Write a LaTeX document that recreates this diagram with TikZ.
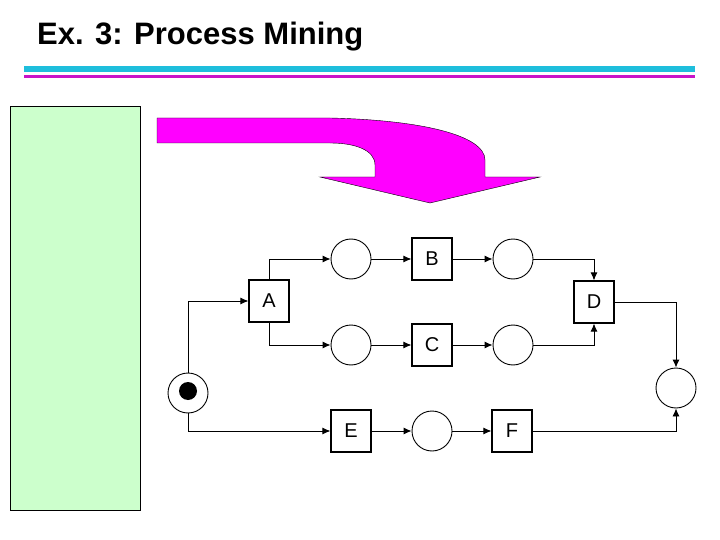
\documentclass[tikz,border=0pt]{standalone}
\usepackage{fontspec}
\setmainfont{Liberation Sans}
\usetikzlibrary{arrows.meta}
\definecolor{mag}{RGB}{255,0,255}
\definecolor{cy}{RGB}{30,190,220}
\definecolor{pu}{RGB}{200,20,200}
\definecolor{lg}{RGB}{204,255,204}
\begin{document}
\begin{tikzpicture}[x=1pt,y=-1pt,
  trans/.style={draw,line width=1.1pt,minimum width=40pt,minimum height=42pt,inner sep=0pt,font=\fontsize{20}{20}\selectfont},
  place/.style={draw,circle,line width=0.9pt,minimum size=40pt,inner sep=0pt},
  arc/.style={-{Latex[length=8pt,width=7pt]},line width=0.9pt}]
\useasboundingbox (0,0) rectangle (720,540);
\node[anchor=base west,inner sep=0pt,font=\fontsize{31}{31}\selectfont\bfseries] (title) at (37,45) {Ex. 3: Process Mining};
\fill[cy] (24,66) rectangle (695,72);
\fill[pu] (24,75) rectangle (695,78);
\draw[fill=lg] (10,106) rectangle (140,510);
\draw[fill=mag] (157,118) -- (330,118) .. controls (420,120) and (485,135) .. (485,160) -- (485,177) -- (540,177) -- (430,203) -- (320,177) -- (375,177) -- (375,165) .. controls (375,150) and (355,143) .. (330,143) -- (157,143) -- cycle;
\node[place] (p0) at (188,393) {};
\fill (188,391) circle (9);
\node[trans] (A) at (269,301) {A};
\node[place] (p1) at (351,259) {};
\node[place] (p2) at (351,345) {};
\node[trans] (B) at (432,259) {B};
\node[trans] (C) at (432,345) {C};
\node[place] (p3) at (513,259) {};
\node[place] (p4) at (513,345) {};
\node[trans] (D) at (594,302) {D};
\node[trans] (E) at (351,431) {E};
\node[place] (p5) at (432,431) {};
\node[trans] (F) at (512,431) {F};
\node[place] (p6) at (676,388) {};
\draw[arc] (p0.north) |- (A.west);
\draw[arc] (p0.south) |- (E.west);
\draw[arc] (A.north) |- (p1.west);
\draw[arc] (A.south) |- (p2.west);
\draw[arc] (p1) -- (B);
\draw[arc] (p2) -- (C);
\draw[arc] (B) -- (p3);
\draw[arc] (C) -- (p4);
\draw[arc] (p3.east) -| (D.north);
\draw[arc] (p4.east) -| (D.south);
\draw[arc] (D.east) -| (p6.north);
\draw[arc] (E) -- (p5);
\draw[arc] (p5) -- (F);
\draw[arc] (F.east) -| (p6.south);
\end{tikzpicture}
\end{document}
